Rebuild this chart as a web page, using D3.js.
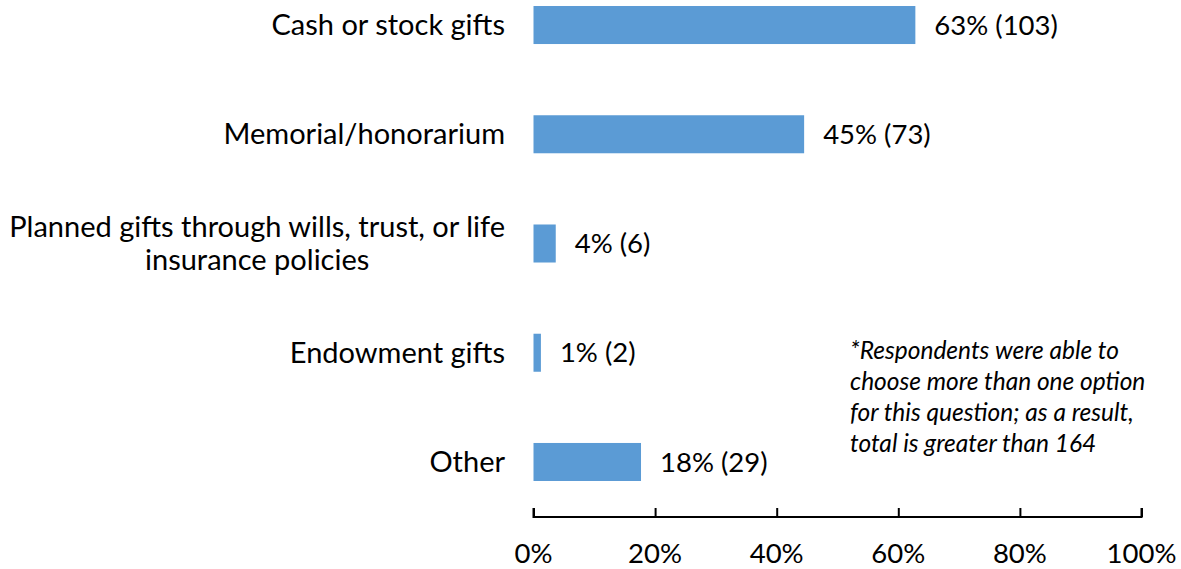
<!DOCTYPE html>
<html>
<head>
<meta charset="utf-8">
<script src="https://cdn.jsdelivr.net/npm/d3@7"></script>
<style>
  body { margin: 0; background: #fff; }
  svg { display: block; font-family: Lato, "Open Sans", sans-serif; }
</style>
</head>
<body>
<svg id="chart" width="1181" height="569"></svg>
<script>
const categories = [
    ["Cash or stock gifts"],
    ["Memorial/honorarium"],
    ["Planned gifts through wills, trust, or life", "insurance policies"],
    ["Endowment gifts"],
    ["Other"]
];
const counts = [103, 73, 6, 2, 29];
const percentLabels = ["63%", "45%", "4%", "1%", "18%"];
const totalRespondents = 164;
const tickValues = [0, 20, 40, 60, 80, 100];
const footnote = [
    "*Respondents were able to",
    "choose more than one option",
    "for this question; as a result,",
    "total is greater than 164"
];

const svg = d3.select("#chart");
const barColor = "#5b9bd5";

const x = d3.scaleLinear().domain([0, 100]).range([533.5, 1141.5]);
const y = d3.scaleBand()
    .domain(d3.range(categories.length))
    .range([-29.6, 516.6])
    .paddingInner(0.652)
    .paddingOuter(0.326);

// bars
svg.selectAll("rect.bar")
    .data(counts)
    .enter().append("rect")
    .attr("class", "bar")
    .attr("x", x(0))
    .attr("y", (d, i) => y(i))
    .attr("width", d => x(d / totalRespondents * 100) - x(0))
    .attr("height", y.bandwidth())
    .attr("fill", barColor);

// value labels
svg.selectAll("text.value")
    .data(counts)
    .enter().append("text")
    .attr("class", "value")
    .attr("x", d => x(d / totalRespondents * 100) + 19)
    .attr("y", (d, i) => y(i) + y.bandwidth() / 2)
    .attr("dy", "0.35em")
    .attr("font-size", 27.5)
    .attr("fill", "#000")
    .text((d, i) => `${percentLabels[i]} (${d})`);

// category labels (multi-line ones are centred as a block, block right aligned)
const labelRight = 505;
categories.forEach((lines, i) => {
    const cy = y(i) + y.bandwidth() / 2;
    const g = svg.append("g");
    const texts = lines.map((line, j) => g.append("text")
        .attr("y", cy + (j - (lines.length - 1) / 2) * 33)
        .attr("dy", "0.35em")
        .attr("font-size", 29)
        .attr("fill", "#000")
        .text(line));
    if (lines.length === 1) {
        texts[0].attr("x", labelRight).attr("text-anchor", "end");
    } else {
        const maxW = d3.max(texts, t => t.node().getComputedTextLength());
        texts.forEach(t => t.attr("x", labelRight - maxW / 2).attr("text-anchor", "middle"));
    }
});

// x axis
const axis = svg.append("g")
    .attr("transform", "translate(0,517)")
    .call(d3.axisTop(x).tickValues(tickValues).tickSize(9).tickFormat(""));
axis.select(".domain").attr("d", `M${x(0)},-9V0H${x(100)}V-9`).attr("stroke", "#000").attr("stroke-width", 2);
axis.selectAll(".tick line").attr("stroke", "#000").attr("stroke-width", 2);

svg.selectAll("text.tick-label")
    .data(tickValues)
    .enter().append("text")
    .attr("class", "tick-label")
    .attr("x", d => x(d))
    .attr("y", 563)
    .attr("text-anchor", "middle")
    .attr("font-size", 27.5)
    .attr("fill", "#000")
    .text(d => d + "%");

// footnote
svg.append("text")
    .attr("font-size", 24.5)
    .attr("font-style", "italic")
    .attr("fill", "#000")
    .selectAll("tspan")
    .data(footnote)
    .enter().append("tspan")
    .attr("x", 850)
    .attr("y", (d, i) => 350 + i * 31)
    .attr("dy", "0.35em")
    .text(d => d);
</script>
</body>
</html>
